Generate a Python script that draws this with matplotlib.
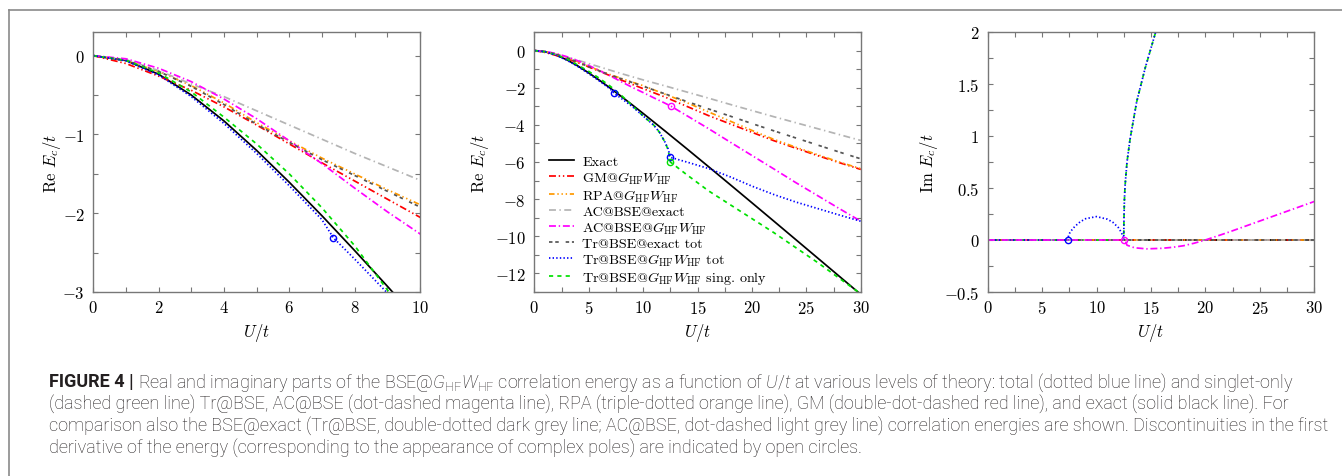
import matplotlib
matplotlib.use("Agg")
import matplotlib.pyplot as plt
from matplotlib.ticker import MultipleLocator, FuncFormatter
from matplotlib.lines import Line2D

plt.rcParams['font.family'] = ['cmr10', 'DejaVu Serif']
plt.rcParams['mathtext.fontset'] = 'cm'
plt.rcParams['axes.formatter.use_mathtext'] = True
plt.rcParams['lines.scale_dashes'] = False
plt.rcParams['mathtext.rm'] = 'Roboto:light'
plt.rcParams['mathtext.it'] = 'Roboto:italic:light'

# ---------------- data ----------------
U_smooth = [0, 1, 2, 3, 4, 5, 6, 7, 8, 9, 10, 12, 14, 16, 18, 20, 22, 24, 26, 28, 30]
re_exact = [0, -0.062, -0.236, -0.5, -0.828, -1.202, -1.606, -2.031, -2.472, -2.924, -3.385,
            -4.325, -5.280, -6.246, -7.220, -8.198, -9.180, -10.166, -11.153, -12.142, -13.132]
re_gm = [0, -0.1, -0.26, -0.44, -0.65, -0.88, -1.12, -1.36, -1.59, -1.82, -2.05,
         -2.5, -3.0, -3.5, -3.95, -4.4, -4.85, -5.25, -5.65, -6.03, -6.4]
re_rpa = [0, -0.06, -0.2, -0.38, -0.6, -0.85, -1.08, -1.3, -1.5, -1.7, -1.89,
          -2.35, -2.8, -3.3, -3.8, -4.3, -4.78, -5.2, -5.6, -6.0, -6.36]
re_ac_exact = [0, -0.05, -0.19, -0.36, -0.52, -0.7, -0.88, -1.06, -1.24, -1.41, -1.58,
               -1.9, -2.23, -2.56, -2.9, -3.23, -3.56, -3.88, -4.2, -4.52, -4.84]
re_tr_exact = [0, -0.06, -0.2, -0.39, -0.62, -0.87, -1.1, -1.32, -1.52, -1.72, -1.92,
               -2.33, -2.74, -3.14, -3.53, -3.93, -4.32, -4.7, -5.08, -5.46, -5.83]

U_ac_gw = [0, 1, 2, 3, 4, 5, 6, 7, 8, 9, 10, 11, 12, 12.6, 14, 16, 18, 20, 22, 24, 26, 28, 30]
re_ac_gw = [0, -0.04, -0.16, -0.33, -0.55, -0.8, -1.08, -1.37, -1.68, -1.98, -2.26, -2.55, -2.83,
            -3.01, -3.5, -4.2, -4.93, -5.65, -6.37, -7.1, -7.8, -8.5, -9.19]

U_tr_tot = [0, 1, 2, 3, 4, 5, 6, 7, 7.35, 8, 9, 10, 11, 11.5, 12, 12.3, 12.5,
            14, 16, 18, 20, 22, 24, 26, 28, 30]
re_tr_tot = [0, -0.065, -0.245, -0.52, -0.86, -1.24, -1.65, -2.08, -2.31, -2.58, -3.01, -3.52,
             -4.03, -4.4, -4.92, -5.3, -5.75, -6.0, -6.35, -6.8, -7.3, -7.75, -8.15, -8.5, -8.85, -9.19]

U_tr_sing = [0, 1, 2, 3, 4, 5, 6, 7, 8, 9, 10, 11, 11.5, 12, 12.3, 12.5,
             14, 16, 18, 20, 22, 24, 26, 28, 30]
re_tr_sing = [0, -0.06, -0.22, -0.46, -0.78, -1.12, -1.5, -1.93, -2.41, -2.97, -3.52,
              -4.03, -4.4, -4.92, -5.35, -6.0, -6.68, -7.55, -8.3, -9.05, -9.8, -10.6,
              -11.4, -12.25, -13.1]

# imaginary parts
U_im_zero = [0, 30]
im_zero = [0.0, 0.0]
U_im_tot = [0, 7.35, 7.45, 7.6, 8, 8.5, 9, 10, 11, 11.5, 12, 12.3, 12.5,
            12.52, 12.56, 12.62, 12.8, 13.08, 13.69, 14.46, 15.38, 16]
im_tot = [0, 0, 0.05, 0.08, 0.13, 0.175, 0.205, 0.225, 0.2, 0.17, 0.12, 0.07, 0,
          0.2, 0.38, 0.52, 0.75, 0.97, 1.33, 1.65, 1.98, 2.2]
U_im_sing = [0, 12.5, 12.52, 12.56, 12.62, 12.8, 13.08, 13.69, 14.46, 15.38, 16]
im_sing = [0, 0, 0.2, 0.38, 0.52, 0.75, 0.97, 1.33, 1.65, 1.98, 2.2]
U_im_ac = [0, 12.6, 12.8, 13.5, 14.6, 16, 17, 18, 19, 20, 22, 24, 26, 28, 30]
im_ac = [0, 0, -0.05, -0.075, -0.085, -0.08, -0.07, -0.055, -0.03, 0.0, 0.07, 0.145, 0.22, 0.295, 0.37]

# open circles (discontinuities)
circ_tot_U = [7.35, 12.5]
circ_tot_re = [-2.31, -5.75]
circ_sing_U = [12.5]
circ_sing_re = [-6.0]
circ_ac_U = [12.6]
circ_ac_re = [-3.01]
circ_im_tot_U = [7.35]
circ_im_ac_U = [12.55]
circ_im_val = [0.0]

labels = ["Exact",
          r"GM@$G_{\rm HF}W_{\rm HF}$",
          r"RPA@$G_{\rm HF}W_{\rm HF}$",
          "AC@BSE@exact",
          r"AC@BSE@$G_{\rm HF}W_{\rm HF}$",
          "Tr@BSE@exact tot",
          r"Tr@BSE@$G_{\rm HF}W_{\rm HF}$ tot",
          r"Tr@BSE@$G_{\rm HF}W_{\rm HF}$ sing. only"]

# ---------------- styles ----------------
LW = 1.25
st = {
    'exact': dict(color='black', lw=LW, ls='-'),
    'gm': dict(color='#ff0000', lw=LW, dashes=(5, 2, 1, 2, 1, 2)),
    'rpa': dict(color='#ff9900', lw=LW, dashes=(4, 2, 1, 2, 1, 2, 1, 2)),
    'ac_exact': dict(color='#b4b4b4', lw=LW, dashes=(5, 2.5, 1, 2.5)),
    'ac_gw': dict(color='#ff00ff', lw=LW, dashes=(5, 2, 1, 2)),
    'tr_exact': dict(color='#555555', lw=LW, dashes=(2.5, 2, 2.5, 5)),
    'tr_tot': dict(color='#0000ff', lw=LW, dashes=(1, 1.6)),
    'tr_sing': dict(color='#00e000', lw=LW, dashes=(3, 3)),
}

fig = plt.figure(figsize=(13.42, 4.77), dpi=100)
W, H = 1342.0, 477.0

def add_ax(left_px):
    return fig.add_axes([left_px / W, (H - 293) / H, 326.5 / W, 260 / H])

ax1 = add_ax(93.3)
ax2 = add_ax(534.3)
ax3 = add_ax(987.7)

def plot_re(ax):
    h = []
    h += ax.plot(U_smooth, re_exact, **st['exact'])
    h += ax.plot(U_smooth, re_gm, **st['gm'])
    h += ax.plot(U_smooth, re_rpa, **st['rpa'])
    h += ax.plot(U_smooth, re_ac_exact, **st['ac_exact'])
    h += ax.plot(U_ac_gw, re_ac_gw, **st['ac_gw'])
    h += ax.plot(U_smooth, re_tr_exact, **st['tr_exact'])
    h += ax.plot(U_tr_sing, re_tr_sing, **st['tr_sing'])
    h += ax.plot(U_tr_tot, re_tr_tot, **st['tr_tot'])
    mk = dict(ls='none', marker='o', ms=4.5, mfc='none', mew=1.0)
    ax.plot(circ_tot_U, circ_tot_re, mec='#0000ff', **mk)
    ax.plot(circ_sing_U, circ_sing_re, mec='#00e000', **mk)
    ax.plot(circ_ac_U, circ_ac_re, mec='#ff00ff', **mk)
    return h

h1 = plot_re(ax1)
h2 = plot_re(ax2)

# imaginary panel
ax3.plot(U_im_zero, im_zero, **st['exact'])
ax3.plot(U_im_zero, im_zero, **st['gm'])
ax3.plot(U_im_zero, im_zero, **st['rpa'])
ax3.plot(U_im_zero, im_zero, **st['ac_exact'])
ax3.plot(U_im_zero, im_zero, **st['tr_exact'])
ax3.plot(U_im_sing, im_sing, **st['tr_sing'])
ax3.plot(U_im_tot, im_tot, **st['tr_tot'])
ax3.plot(U_im_ac, im_ac, **st['ac_gw'])
mk = dict(ls='none', marker='o', ms=4.5, mfc='none', mew=1.0)
ax3.plot(circ_im_tot_U, circ_im_val, mec='#0000ff', **mk)
ax3.plot(circ_im_ac_U, circ_im_val, mec='#ff00ff', **mk)

fmt = FuncFormatter(lambda v, p: r"$%g$" % v)

def style(ax, xlim, ylim, xmaj, xmin, ymaj, ymin, ylabel, ylab_x):
    ax.set_xlim(*xlim)
    ax.set_ylim(*ylim)
    ax.xaxis.set_major_locator(MultipleLocator(xmaj))
    ax.xaxis.set_minor_locator(MultipleLocator(xmin))
    ax.yaxis.set_major_locator(MultipleLocator(ymaj))
    ax.yaxis.set_minor_locator(MultipleLocator(ymin))
    ax.xaxis.set_major_formatter(fmt)
    ax.yaxis.set_major_formatter(fmt)
    ax.tick_params(which='both', direction='in', top=True, right=True,
                   length=3.5, width=0.8, color='#777777', labelsize=12)
    ax.tick_params(axis='x', which='major', pad=5)
    ax.tick_params(axis='y', which='major', pad=6)
    for s in ax.spines.values():
        s.set_color('#777777')
        s.set_linewidth(1.0)
    ax.set_xlabel(r"$U/t$", fontsize=12)
    ax.xaxis.set_label_coords(0.5, -0.11)
    ax.set_ylabel(ylabel, fontsize=12)
    ax.yaxis.set_label_coords(ylab_x, 0.5)

style(ax1, (0, 10), (-3, 0.3), 2, 1, 1, 0.5, r"Re $E_c/t$", -0.092)
style(ax2, (0, 30), (-13, 1), 5, 2.5, 2, 1, r"Re $E_c/t$", -0.132)
style(ax3, (0, 30), (-0.5, 2), 5, 2.5, 0.5, 0.25, r"Im $E_c/t$", -0.145)

ax2.legend(h2[:6] + [h2[7], h2[6]], labels, loc='lower left',
           bbox_to_anchor=(0.045, 0.022), frameon=False, fontsize=10.2,
           handlelength=1.8, handletextpad=0.55, labelspacing=0.1,
           borderpad=0, borderaxespad=0)

# figure frame lines
fx = 9.0 / W
fy = 1 - 10.7 / H
fig.add_artist(Line2D([fx, 1.0], [fy, fy], transform=fig.transFigure, color='#8a8a8a', lw=1.2))
fig.add_artist(Line2D([fx, fx], [0, fy], transform=fig.transFigure, color='#8a8a8a', lw=1.2))

# caption
cap_lines = [
    r"Real and imaginary parts of the BSE@$G_{\mathrm{HF}}W_{\mathrm{HF}}$ correlation energy as a function of $U/t$ at various levels of theory: total (dotted blue line) and singlet-only",
    "(dashed green line) Tr@BSE, AC@BSE (dot-dashed magenta line), RPA (triple-dotted orange line), GM (double-dot-dashed red line), and exact (solid black line). For",
    "comparison also the BSE@exact (Tr@BSE, double-dotted dark grey line; AC@BSE, dot-dashed light grey line) correlation energies are shown. Discontinuities in the first",
    "derivative of the energy (corresponding to the appearance of complex poles) are indicated by open circles.",
]
cap_x0 = 49.0
cap_base = [387.5, 409.2, 430.9, 452.6]
capcol = '#231f20'
fig.canvas.draw()
renderer = fig.canvas.get_renderer()
fs = 10.0
probe = fig.text(cap_x0 / W, 0.5, cap_lines[2], fontsize=fs, family='Roboto',
                 fontweight='light', math_fontfamily='custom')
wpx = probe.get_window_extent(renderer).width
probe.remove()
fs = fs * (1331.0 - cap_x0) / wpx

tb = fig.text(cap_x0 / W, 1 - cap_base[0] / H, "FIGURE 4 |", fontsize=fs, family='Roboto',
              fontweight='bold', color=capcol, va='baseline')
bw = tb.get_window_extent(renderer).width
for i, line in enumerate(cap_lines):
    x = cap_x0 + (bw + fs * 0.3) if i == 0 else cap_x0
    fig.text(x / W, 1 - cap_base[i] / H, line, fontsize=fs, family='Roboto',
             fontweight='light', color=capcol, va='baseline', math_fontfamily='custom')

fig.savefig("out.png", dpi=100)
